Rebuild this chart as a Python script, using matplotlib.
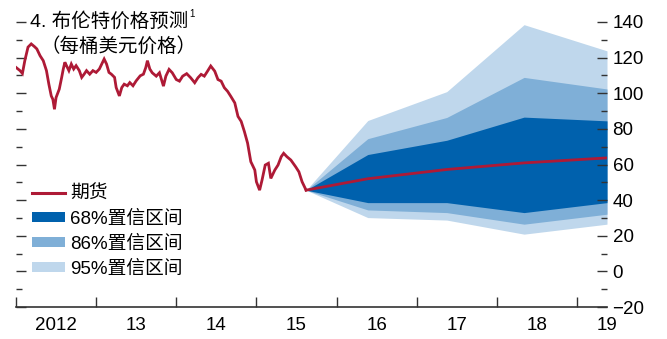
import matplotlib
matplotlib.use("Agg")
import matplotlib.pyplot as plt
from matplotlib.lines import Line2D
from matplotlib.patches import Patch

plt.rcParams['font.family'] = ['Liberation Sans', 'Noto Sans CJK SC', 'DejaVu Sans']

# Brent spot history (decimal year, $ per barrel)
hist_t = [2012.00, 2012.05, 2012.08, 2012.11, 2012.15, 2012.19, 2012.23, 2012.26, 2012.30,
          2012.34, 2012.38, 2012.41, 2012.44, 2012.46, 2012.48, 2012.50, 2012.54, 2012.57,
          2012.59, 2012.61, 2012.63, 2012.66, 2012.69, 2012.72, 2012.75, 2012.79, 2012.82,
          2012.85, 2012.88, 2012.92, 2012.96, 2013.00, 2013.04, 2013.07, 2013.10, 2013.13,
          2013.16, 2013.19, 2013.23, 2013.25, 2013.29, 2013.32, 2013.35, 2013.39, 2013.42,
          2013.46, 2013.50, 2013.55, 2013.59, 2013.62, 2013.64, 2013.67, 2013.70, 2013.75,
          2013.79, 2013.84, 2013.87, 2013.91, 2013.95, 2014.00, 2014.04, 2014.08, 2014.13,
          2014.18, 2014.23, 2014.27, 2014.31, 2014.35, 2014.39, 2014.43, 2014.48, 2014.52,
          2014.56, 2014.60, 2014.64, 2014.68, 2014.73, 2014.77, 2014.81, 2014.85, 2014.89,
          2014.93, 2014.98, 2015.00, 2015.04, 2015.07, 2015.11, 2015.15, 2015.18, 2015.23,
          2015.27, 2015.31, 2015.34, 2015.38, 2015.43, 2015.49, 2015.53, 2015.57, 2015.62]
hist_v = [114.5, 112.7, 111.1, 118.3, 125.9, 127.7, 126.2, 124.9, 121.1,
          118.3, 112.7, 105.1, 98.5, 96.6, 91.0, 97.6, 102.3, 108.9,
          113.6, 117.4, 115.5, 112.7, 116.4, 113.6, 115.5, 112.7, 108.9,
          110.7, 112.7, 110.7, 112.7, 111.7, 113.6, 116.4, 119.2, 116.4,
          111.7, 110.7, 108.9, 103.2, 98.5, 103.2, 105.1, 104.2, 106.0,
          104.2, 107.0, 109.8, 110.7, 114.5, 118.3, 113.6, 111.5, 109.6,
          111.5, 104.0, 109.6, 113.4, 111.5, 107.7, 106.8, 109.6, 111.0,
          108.7, 105.9, 108.7, 110.6, 109.6, 112.4, 115.3, 112.4, 107.7,
          106.8, 103.1, 101.1, 98.3, 94.6, 87.0, 84.2, 78.5, 72.0,
          61.6, 56.9, 50.3, 45.6, 51.2, 59.7, 60.7, 52.2, 56.9,
          59.7, 64.4, 66.3, 64.4, 62.5, 58.7, 55.9, 50.3, 45.6]

# forecast fan
fan_t = [2015.62, 2016.39, 2017.375, 2018.34, 2019.375]
futures = [45.6, 52.0, 57.2, 60.9, 63.7]
lo68 = [45.6, 38.6, 38.6, 33.0, 38.6]
hi68 = [45.6, 65.6, 73.6, 86.6, 84.5]
lo86 = [45.6, 34.5, 33.0, 26.5, 32.1]
hi86 = [45.6, 74.5, 86.4, 108.9, 102.4]
lo95 = [45.6, 30.2, 28.8, 20.9, 26.5]
hi95 = [45.6, 84.7, 100.9, 138.5, 123.8]

year_labels = ["2012", "13", "14", "15", "16", "17", "18", "19"]
label_pos = [2012.5, 2013.5, 2014.5, 2015.5, 2016.5, 2017.5, 2018.5, 2019.37]

RED = "#AE1A36"
DARK = "#0061AD"
MID = "#7FAFD7"
LIGHT = "#BFD7EC"

fig = plt.figure(figsize=(6.67, 3.39), dpi=100)
ax = fig.add_axes([16 / 667, 32 / 339, 591 / 667, 285 / 339])

ax.fill_between(fan_t, lo95, hi95, color=LIGHT, lw=0)
ax.fill_between(fan_t, lo86, hi86, color=MID, lw=0)
ax.fill_between(fan_t, lo68, hi68, color=DARK, lw=0)
ax.plot(hist_t, hist_v, color=RED, lw=2.0, solid_joinstyle="miter")
ax.plot(fan_t, futures, color=RED, lw=2.0)

ax.set_xlim(2012.0, 2019.375)
ax.set_ylim(-20, 140)

for s in ["top", "left", "right"]:
    ax.spines[s].set_visible(False)
ax.spines["bottom"].set_color("#333333")
ax.spines["bottom"].set_linewidth(1.2)

ax.set_xticks(range(2012, 2020))
ax.set_xticks(label_pos, minor=True)
ax.set_xticklabels([])
ax.set_xticklabels(year_labels, minor=True)
ax.tick_params(axis="x", which="major", direction="in", length=7, width=1, color="#333333")
ax.tick_params(axis="x", which="minor", length=0, pad=7, labelsize=13.5)

ax.set_yticks(range(-20, 141, 20))
ax.set_yticks(range(-10, 141, 20), minor=True)
ax.tick_params(axis="y", which="both", left=True, right=True, labelleft=False,
               labelright=True, direction="in", color="#333333", labelsize=13.5, pad=4)
ax.tick_params(axis="y", which="major", length=7, width=1)
ax.tick_params(axis="y", which="minor", length=4, width=1)
ax.set_yticklabels([str(v).replace("-", "\u2212") for v in range(-20, 141, 20)])

handles = [Line2D([], [], color=RED, lw=2.2),
           Patch(color=DARK, lw=0), Patch(color=MID, lw=0), Patch(color=LIGHT, lw=0)]
labels = ["期货", "68%置信区间", "86%置信区间", "95%置信区间"]
ax.legend(handles, labels, loc="upper left", bbox_to_anchor=(0.027, 0.425), frameon=False,
          fontsize=13.5, handlelength=1.76, handleheight=0.45, handletextpad=0.27,
          labelspacing=0.42, borderpad=0, borderaxespad=0)

title = fig.text(30 / 667, 1 - 27 / 339, "4. 布伦特价格预测", fontsize=14, va="baseline")
fig.canvas.draw()
bb = title.get_window_extent()
fig.text(bb.x1 / fig.bbox.width + 0.002, 1 - 17 / 339, "1", fontsize=7, va="baseline")
fig.text(40 / 667, 1 - 52 / 339, "（每桶美元价格）", fontsize=14, va="baseline")

fig.savefig("out.png", dpi=100)
